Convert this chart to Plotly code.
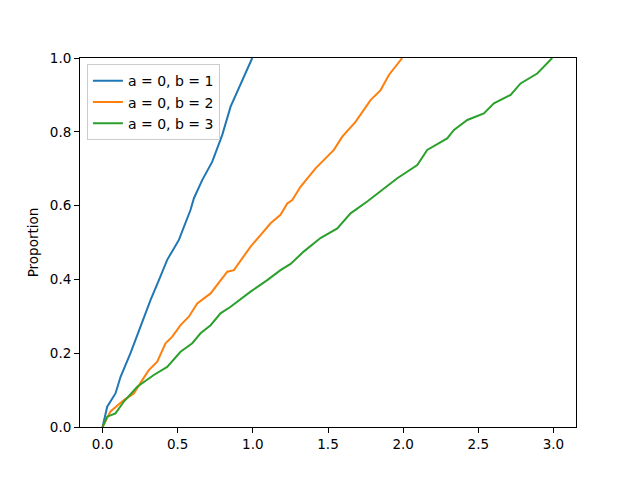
import plotly.graph_objects as go

# points (x value, proportion)
x_b1 = [0.0, 0.031, 0.086, 0.12, 0.186, 0.253, 0.319, 0.375, 0.43, 0.508, 0.585, 0.608, 0.663, 0.73,
        0.796, 0.852, 0.918, 0.996]
y_b1 = [0.0, 0.055, 0.091, 0.136, 0.2, 0.272, 0.344, 0.398, 0.453, 0.507, 0.588, 0.62, 0.669, 0.719,
        0.791, 0.868, 0.927, 1.0]

x_b2 = [0.0, 0.053, 0.142, 0.208, 0.264, 0.308, 0.364, 0.419, 0.464, 0.519, 0.574, 0.63, 0.719, 0.83,
        0.874, 0.94, 0.985, 1.051, 1.118, 1.184, 1.229, 1.262, 1.317, 1.417, 1.539, 1.595, 1.683, 1.783,
        1.85, 1.905, 1.994]
y_b2 = [0.0, 0.042, 0.073, 0.091, 0.127, 0.154, 0.177, 0.227, 0.245, 0.276, 0.299, 0.335, 0.362, 0.421,
        0.425, 0.462, 0.489, 0.52, 0.552, 0.575, 0.606, 0.615, 0.651, 0.701, 0.751, 0.787, 0.827, 0.886,
        0.913, 0.954, 1.0]

x_b3 = [0.0, 0.031, 0.086, 0.142, 0.231, 0.341, 0.43, 0.519, 0.597, 0.652, 0.719, 0.785, 0.852, 0.94,
        0.985, 1.096, 1.184, 1.251, 1.34, 1.45, 1.562, 1.65, 1.761, 1.961, 2.094, 2.16, 2.293, 2.338,
        2.427, 2.537, 2.604, 2.715, 2.781, 2.892, 2.992]
y_b3 = [0.0, 0.028, 0.037, 0.069, 0.109, 0.141, 0.163, 0.204, 0.227, 0.254, 0.276, 0.308, 0.326, 0.353,
        0.367, 0.398, 0.425, 0.442, 0.476, 0.512, 0.538, 0.579, 0.611, 0.674, 0.71, 0.751, 0.782, 0.805,
        0.832, 0.85, 0.877, 0.9, 0.931, 0.958, 1.0]

names = ["a = 0, b = 1", "a = 0, b = 2", "a = 0, b = 3"]
colors = ["#1f77b4", "#ff7f0e", "#2ca02c"]

fig = go.Figure()
for xs, ys, nm, c in zip([x_b1, x_b2, x_b3], [y_b1, y_b2, y_b3], names, colors):
    fig.add_trace(go.Scatter(x=xs, y=ys, mode="lines", name=nm,
                             line=dict(color=c, width=2)))

axis_style = dict(showline=True, linecolor="black", linewidth=1, mirror=True,
                  ticks="outside", ticklen=5, tickcolor="black", showgrid=False,
                  zeroline=False, tickfont=dict(size=13.5, color="black"))

fig.update_xaxes(range=[-0.15, 3.15], tickvals=[0, 0.5, 1, 1.5, 2, 2.5, 3],
                 tickformat=".1f", **axis_style)
fig.update_yaxes(range=[0, 1], tickvals=[0, 0.2, 0.4, 0.6, 0.8, 1.0], tickformat=".1f",
                 title=dict(text="Proportion", font=dict(size=13.5, color="black"), standoff=8),
                 **axis_style)

# page body adds an 8px offset, so margins are shifted to compensate
fig.update_layout(
    width=640, height=480,
    margin=dict(l=72, r=72, t=50, b=61),
    paper_bgcolor="white", plot_bgcolor="white",
    font=dict(family="DejaVu Sans", color="black"),
    legend=dict(x=0.014, y=0.983, xanchor="left", yanchor="top",
                bgcolor="rgba(255,255,255,0.8)", bordercolor="#cccccc", borderwidth=1,
                font=dict(size=14), tracegroupgap=0),
)

fig.write_html("out.html")
